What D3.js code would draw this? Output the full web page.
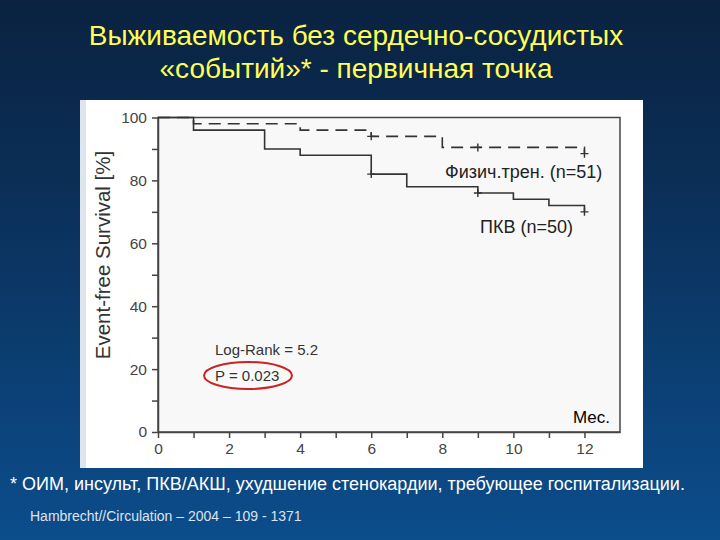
<!DOCTYPE html>
<html lang="ru">
<head>
<meta charset="utf-8">
<title>Выживаемость без сердечно-сосудистых событий</title>
<script src="https://d3js.org/d3.v7.min.js"></script>
<style>
    body { margin: 0; padding: 0; overflow: hidden; background: #0b2a4c; }
    svg { display: block; font-family: "Liberation Sans", Arial, sans-serif; }
</style>
</head>
<body>
<div id="chart"></div>
<script>
    // values
    const titleLines = ["Выживаемость без сердечно-сосудистых", "«событий»* - первичная точка"];
    const footnote = "* ОИМ, инсульт, ПКВ/АКШ, ухудшение стенокардии, требующее госпитализации.";
    const citation = "Hambrecht//Circulation – 2004 – 109 - 1371";

    const xTicks = [0, 1, 2, 3, 4, 5, 6, 7, 8, 9, 10, 11, 12];
    const yTicks = [0, 10, 20, 30, 40, 50, 60, 70, 80, 90, 100];

    // PCI group (solid line)
    const pciMonths = [0, 1, 3, 4, 6, 7, 9, 10, 11, 12];
    const pciSurvival = [100, 96, 90, 88, 82, 78, 76, 74, 72, 70];
    const pciCensored = [6, 9, 12];

    // exercise training group (dashed line)
    const exMonths = [0, 1, 4, 6, 8, 12];
    const exSurvival = [100, 98, 96, 94, 90.5, 88.5];
    const exCensored = [6, 9, 12];

    const w = 720, h = 540;

    const svg = d3.select("#chart").append("svg")
        .attr("width", w)
        .attr("height", h);

    const defs = svg.append("defs");
    const bg = defs.append("linearGradient")
        .attr("id", "bg")
        .attr("x1", 0).attr("y1", 0).attr("x2", 0).attr("y2", 1);
    bg.append("stop").attr("offset", "0%").attr("stop-color", "#0a2240");
    bg.append("stop").attr("offset", "35%").attr("stop-color", "#0b2f58");
    bg.append("stop").attr("offset", "100%").attr("stop-color", "#0c4d8c");

    svg.append("rect")
        .attr("width", w).attr("height", h)
        .attr("fill", "url(#bg)");

    // title
    svg.append("g").selectAll("text")
        .data(titleLines)
        .enter().append("text")
        .attr("x", 356)
        .attr("y", (d, i) => 45 + i * 33)
        .attr("text-anchor", "middle")
        .attr("fill", "#ffff55")
        .attr("font-size", 28)
        .text(d => d);

    // white picture panel
    svg.append("rect")
        .attr("x", 80).attr("y", 100)
        .attr("width", 563).attr("height", 368)
        .attr("fill", "#ffffff");
    svg.append("rect")
        .attr("x", 80).attr("y", 100)
        .attr("width", 6).attr("height", 368)
        .attr("fill", "#dfe5ec");

    const x = d3.scaleLinear().domain([0, 13]).range([158, 620]);
    const y = d3.scaleLinear().domain([0, 100]).range([432, 117.5]);

    // plot background and frame
    svg.append("rect")
        .attr("x", x(0)).attr("y", y(100))
        .attr("width", x(13) - x(0)).attr("height", y(0) - y(100))
        .attr("fill", "#f8f8f8")
        .attr("stroke", "#444")
        .attr("stroke-width", 1.5);

    const yAxis = d3.axisLeft(y)
        .tickValues(yTicks)
        .tickSize(6)
        .tickSizeOuter(0)
        .tickPadding(5)
        .tickFormat(d => d % 20 === 0 ? d : "");

    const xAxis = d3.axisBottom(x)
        .tickValues(xTicks)
        .tickSize(6)
        .tickSizeOuter(0)
        .tickPadding(5)
        .tickFormat(d => d % 2 === 0 ? d : "");

    const styleAxis = g => {
        g.select(".domain").attr("stroke", "#444").attr("stroke-width", 1.5);
        g.selectAll(".tick line").attr("stroke", "#444").attr("stroke-width", 1.5);
        g.selectAll(".tick text")
            .attr("fill", "#444")
            .attr("font-size", 15.5)
            .attr("font-family", "Liberation Sans, Arial, sans-serif");
    };

    svg.append("g")
        .attr("transform", `translate(${x(0)},0)`)
        .call(yAxis)
        .call(styleAxis);

    svg.append("g")
        .attr("transform", `translate(0,${y(0)})`)
        .call(xAxis)
        .call(styleAxis);

    svg.append("text")
        .attr("transform", "translate(110,255) rotate(-90)")
        .attr("text-anchor", "middle")
        .attr("fill", "#333")
        .attr("font-size", 20.5)
        .text("Event-free Survival [%]");

    // survival curves
    const stepLine = d3.line()
        .x(d => x(d[0]))
        .y(d => y(d[1]))
        .curve(d3.curveStepAfter);

    const survivalAt = (months, surv, t) => {
        let v = surv[0];
        months.forEach((m, i) => { if (m <= t) v = surv[i]; });
        return v;
    };

    const curves = [
        { months: pciMonths, surv: pciSurvival, censored: pciCensored, dash: null },
        { months: exMonths, surv: exSurvival, censored: exCensored, dash: "12,7" }
    ];

    curves.forEach(c => {
        svg.append("path")
            .datum(c.months.map((m, i) => [m, c.surv[i]]))
            .attr("d", stepLine)
            .attr("fill", "none")
            .attr("stroke", "#333")
            .attr("stroke-width", 1.6)
            .attr("stroke-dasharray", c.dash);

        svg.append("g").selectAll("path")
            .data(c.censored)
            .enter().append("path")
            .attr("d", t => {
                const cx = x(t), cy = y(survivalAt(c.months, c.surv, t));
                return `M${cx - 4},${cy}H${cx + 4}M${cx},${cy - 4}V${cy + 4}`;
            })
            .attr("stroke", "#333")
            .attr("stroke-width", 1.4);
    });

    // annotations
    svg.append("text")
        .attr("x", 445).attr("y", 178)
        .attr("fill", "#222").attr("font-size", 18)
        .text("Физич.трен. (n=51)");
    svg.append("text")
        .attr("x", 480).attr("y", 233)
        .attr("fill", "#222").attr("font-size", 18)
        .text("ПКВ (n=50)");
    svg.append("text")
        .attr("x", 215).attr("y", 355)
        .attr("fill", "#333").attr("font-size", 15)
        .text("Log-Rank = 5.2");
    svg.append("text")
        .attr("x", 215).attr("y", 381)
        .attr("fill", "#333").attr("font-size", 15)
        .text("P = 0.023");
    svg.append("ellipse")
        .attr("cx", 248).attr("cy", 375.5)
        .attr("rx", 44).attr("ry", 13.5)
        .attr("fill", "none")
        .attr("stroke", "#cc2222")
        .attr("stroke-width", 2);
    svg.append("text")
        .attr("x", 610).attr("y", 423)
        .attr("text-anchor", "end")
        .attr("fill", "#000").attr("font-size", 17)
        .text("Мес.");

    // footnote and source
    svg.append("text")
        .attr("x", 10).attr("y", 490)
        .attr("fill", "#ffffff").attr("font-size", 18)
        .text(footnote);
    svg.append("text")
        .attr("x", 30).attr("y", 521)
        .attr("fill", "#dde4ee").attr("font-size", 14)
        .text(citation);
</script>
</body>
</html>
